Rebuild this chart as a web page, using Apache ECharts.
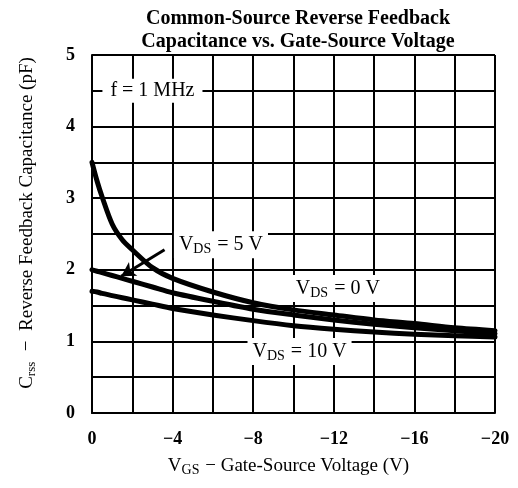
<!DOCTYPE html>
<html>
<head>
<meta charset="utf-8">
<script src="https://cdn.jsdelivr.net/npm/echarts@6/dist/echarts.min.js"></script>
<style>html,body{margin:0;padding:0;background:#fff;}#c{width:518px;height:488px;}</style>
</head>
<body>
<div id="c"></div>
<script>
const vgs   = [0, -0.25, -0.5, -1, -1.5, -2, -3, -4, -6, -8, -10, -12, -14, -16, -18, -20];
const vds0  = [3.5, 3.24, 3.02, 2.64, 2.42, 2.28, 2.03, 1.88, 1.69, 1.54, 1.44, 1.37, 1.30, 1.25, 1.19, 1.15];
const vds5  = [2.0, 1.98, 1.96, 1.92, 1.88, 1.84, 1.76, 1.68, 1.56, 1.45, 1.37, 1.30, 1.24, 1.19, 1.15, 1.11];
const vds10 = [1.7, 1.69, 1.67, 1.64, 1.61, 1.58, 1.52, 1.46, 1.37, 1.29, 1.22, 1.17, 1.13, 1.10, 1.08, 1.06];
const xTicks = [0, -4, -8, -12, -16, -20];
const yTicks = [0, 1, 2, 3, 4, 5];
const titleLines = ['Common-Source Reverse Feedback', 'Capacitance vs. Gate-Source Voltage'];
const labelVds0 = {x: -12.2, y: 1.74, text: '= 0 V'};
const labelVds5 = {x: -6.4, y: 2.35, text: '= 5 V'};
const labelVds10 = {x: -10.3, y: 0.86, text: '= 10 V'};
const labelFreq = {x: -3.0, y: 4.5, text: 'f = 1 MHz'};
const arrow5 = [[-3.6, 2.28], [-1.45, 1.91]];

const FONT = '"Liberation Serif", "DejaVu Serif", serif';
const pair = (xs, ys) => xs.map((x, i) => [x, ys[i]]);
const minus = v => String(v).replace('-', '\u2212');

const subRich = {
  v: {fontFamily: FONT, fontSize: 20, color: '#000'},
  s: {fontFamily: FONT, fontSize: 14, color: '#000', padding: [9, 1, 0, 0]}
};
function vLabel(l) {
  return {
    coord: [l.x, l.y], symbol: 'rect', symbolSize: 0,
    label: {
      show: true, position: 'inside',
      formatter: '{v|V}{s|DS}{v| ' + l.text + '}',
      backgroundColor: '#fff', padding: [2, 5, 2, 5],
      rich: subRich
    }
  };
}

const chart = echarts.init(document.getElementById('c'), null, {renderer: 'canvas'});
const lineBase = {
  type: 'line', showSymbol: false, smooth: 0.3,
  lineStyle: {color: '#000', width: 5, cap: 'round', join: 'round'}, itemStyle: {color: '#000'}, z: 5
};
chart.setOption({
  animation: false,
  backgroundColor: '#fff',
  title: {
    text: titleLines.join('\n'),
    left: 293, top: 2, textAlign: 'center',
    textStyle: {fontFamily: FONT, fontWeight: 'bold', fontSize: 20, lineHeight: 23, color: '#000'}
  },
  grid: {left: 92, right: 23, top: 55, bottom: 75},
  xAxis: {
    type: 'value', min: -20, max: 0, interval: 2, inverse: true,
    name: '{v|V}{s|GS}{v| \u2212 Gate-Source Voltage (V)}',
    nameLocation: 'middle', nameGap: 42,
    nameTextStyle: {padding: [0, 10, 0, 0], rich: {v: {fontFamily: FONT, fontSize: 19, color: '#000'}, s: {fontFamily: FONT, fontSize: 14, color: '#000', padding: [8, 1, 0, 0]}}},
    axisLine: {show: true, lineStyle: {color: '#000', width: 2}},
    axisTick: {show: false},
    axisLabel: {
      margin: 17, color: '#000', fontFamily: FONT, fontWeight: 'bold', fontSize: 18,
      formatter: v => xTicks.indexOf(v) >= 0 ? minus(v) : ''
    },
    splitLine: {show: true, lineStyle: {color: '#000', width: 2}}
  },
  yAxis: {
    type: 'value', min: 0, max: 5, interval: 0.5,
    name: '{v|C}{s|rss}{v|  \u2212  Reverse Feedback Capacitance (pF)}',
    nameLocation: 'middle', nameGap: 54, nameRotate: 90,
    nameTextStyle: {padding: [0, 0, 0, 22], rich: {v: {fontFamily: FONT, fontSize: 19, color: '#000'}, s: {fontFamily: FONT, fontSize: 13, color: '#000', padding: [8, 1, 0, 0]}}},
    axisLine: {show: true, lineStyle: {color: '#000', width: 2}},
    axisTick: {show: false},
    axisLabel: {
      margin: 17, color: '#000', fontFamily: FONT, fontWeight: 'bold', fontSize: 18,
      formatter: v => yTicks.indexOf(v) >= 0 ? String(v) : ''
    },
    splitLine: {show: true, lineStyle: {color: '#000', width: 2}}
  },
  series: [
    Object.assign({}, lineBase, {
      name: 'VDS = 0 V', data: pair(vgs, vds0),
      markPoint: {silent: true, data: [vLabel(labelVds0), {
        coord: [labelFreq.x, labelFreq.y], symbol: 'rect', symbolSize: 0,
        label: {show: true, position: 'inside', formatter: labelFreq.text, backgroundColor: '#fff',
          padding: [2, 8, 2, 8], fontFamily: FONT, fontSize: 20, color: '#000'}
      }]}
    }),
    Object.assign({}, lineBase, {
      name: 'VDS = 5 V', data: pair(vgs, vds5),
      markPoint: {silent: true, data: [vLabel(labelVds5)]},
      markLine: {
        silent: true, symbol: ['none', 'arrow'], symbolSize: [12, 14],
        lineStyle: {color: '#000', width: 3, type: 'solid'}, label: {show: false},
        data: [[{coord: arrow5[0]}, {coord: arrow5[1]}]]
      }
    }),
    Object.assign({}, lineBase, {
      name: 'VDS = 10 V', data: pair(vgs, vds10),
      markPoint: {silent: true, data: [vLabel(labelVds10)]}
    })
  ]
});
</script>
</body>
</html>
